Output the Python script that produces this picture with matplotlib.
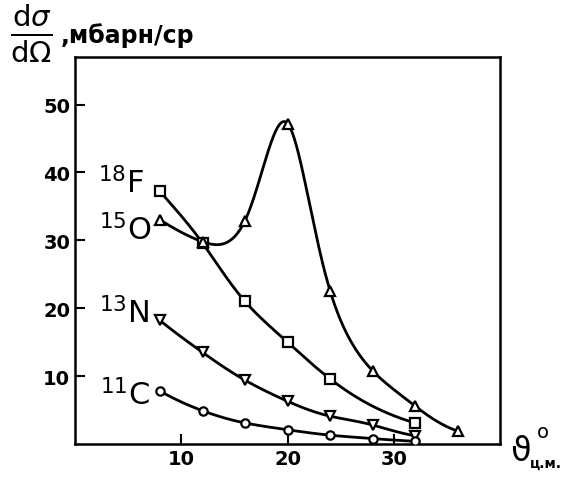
import numpy as np
import matplotlib
matplotlib.use("Agg")
import matplotlib.pyplot as plt

# ---- data ----
x_F18 = [8, 12, 16, 20, 24, 32]
y_F18 = [37.2, 29.6, 21.0, 15.0, 9.6, 3.1]

x_O15 = [8, 12, 16, 20, 24, 28, 32, 36]
y_O15 = [33.0, 29.8, 32.9, 47.2, 22.6, 10.8, 5.6, 1.9]

x_N13 = [8, 12, 16, 20, 24, 28, 32]
y_N13 = [18.2, 13.5, 9.4, 6.3, 4.1, 2.8, 1.2]

x_C11 = [8, 12, 16, 20, 24, 28, 32]
y_C11 = [7.8, 4.9, 3.1, 2.1, 1.3, 0.8, 0.4]

labels = ["18", "15", "13", "11"]
elements = ["F", "O", "N", "C"]

x_ticks = [10, 20, 30]
y_ticks = [10, 20, 30, 40, 50]


def natural_spline(x, y, n=400):
    x = np.asarray(x, float)
    y = np.asarray(y, float)
    k = len(x)
    h = np.diff(x)
    A = np.zeros((k, k))
    b = np.zeros(k)
    A[0, 0] = A[-1, -1] = 1
    for i in range(1, k - 1):
        A[i, i - 1] = h[i - 1]
        A[i, i] = 2 * (h[i - 1] + h[i])
        A[i, i + 1] = h[i]
        b[i] = 3 * ((y[i + 1] - y[i]) / h[i] - (y[i] - y[i - 1]) / h[i - 1])
    c = np.linalg.solve(A, b)
    xs = np.linspace(x[0], x[-1], n)
    ys = np.empty_like(xs)
    for j, xv in enumerate(xs):
        i = min(np.searchsorted(x, xv, side="right") - 1, k - 2)
        dx = xv - x[i]
        bb = (y[i + 1] - y[i]) / h[i] - h[i] * (2 * c[i] + c[i + 1]) / 3
        d = (c[i + 1] - c[i]) / (3 * h[i])
        ys[j] = y[i] + bb * dx + c[i] * dx ** 2 + d * dx ** 3
    return xs, ys


def log_spline(x, y):
    xs, ly = natural_spline(x, np.log(np.asarray(y, float)))
    return xs, np.exp(ly)


plt.rcParams['font.family'] = ['DejaVu Sans']
fig = plt.figure(figsize=(5.64, 4.81), dpi=100)
ax = fig.add_axes([75 / 564, 36 / 481, 425 / 564, 387 / 481])

series = [
    (x_F18, y_F18, "s"),
    (x_O15, y_O15, "^"),
    (x_N13, y_N13, "v"),
    (x_C11, y_C11, "o"),
]
for xs_, ys_, m in series:
    sx, sy = log_spline(xs_, ys_)
    ax.plot(sx, sy, color="black", lw=2.0, zorder=2)
    ax.plot(xs_, ys_, linestyle="none", marker=m, markersize=7 if m != "o" else 6,
            markerfacecolor="white", markeredgecolor="black", markeredgewidth=1.6, zorder=3)

ax.set_xlim(0, 40)
ax.set_ylim(0, 57)
ax.set_xticks(x_ticks)
ax.set_yticks(y_ticks)
ax.tick_params(direction="in", length=7, width=1.5, labelsize=14)
for lab in ax.get_xticklabels() + ax.get_yticklabels():
    lab.set_fontweight("bold")
for s in ax.spines.values():
    s.set_linewidth(1.8)

# species labels
lab_pos = [(6.5, 38.6), (7.2, 31.6), (7.0, 19.4), (7.1, 7.4)]
for (lx, ly), iso, el in zip(lab_pos, labels, elements):
    ax.text(lx, ly, r"$^{%s}$%s" % (iso, el), ha="right", va="center", fontsize=22)

# y label
fig.text(0.055, 0.93, r"$\frac{\mathrm{d}\sigma}{\mathrm{d}\Omega}$", fontsize=30,
         ha="center", va="center")
fig.text(0.108, 0.925, ",мбарн/ср", fontsize=17, fontweight="bold", ha="left", va="center")

# x label
fig.text(0.922, 0.062, "ϑ", fontsize=24, ha="center", va="center")
fig.text(0.962, 0.1, "o", fontsize=14, ha="center", va="center")
fig.text(0.997, 0.036, "ц.м.", fontsize=10, fontweight="bold", ha="right", va="center")

fig.savefig("out.png", dpi=100)
